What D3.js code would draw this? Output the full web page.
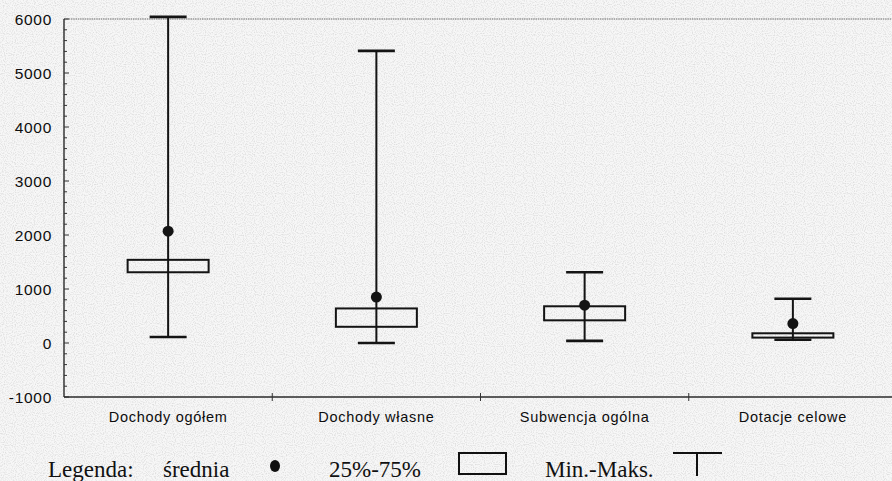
<!DOCTYPE html>
<html>
<head>
<meta charset="utf-8">
<script src="https://cdn.jsdelivr.net/npm/d3@7/dist/d3.min.js"></script>
<style>
  html, body { margin: 0; padding: 0; background: #f4f4f4; }
  svg { display: block; }
</style>
</head>
<body>
<svg id="chart" width="892" height="481"></svg>
<script>
// Budget income components (per capita), summary statistics per category
const categories = ["Dochody ogółem", "Dochody własne", "Subwencja ogólna", "Dotacje celowe"];
const minVals  = [110,    0,   40,  60];
const q1Vals   = [1310, 300,  420, 100];
const q3Vals   = [1540, 640,  680, 180];
const meanVals = [2070, 850,  700, 360];
const maxVals  = [6040, 5410, 1310, 820];
const yTicks   = [-1000, 0, 1000, 2000, 3000, 4000, 5000, 6000];
const yMinorTicks = d3.range(-1000, 6001, 200);

const W = 892, H = 481;
const svg = d3.select("#chart");

// paper grain
const defs = svg.append("defs");
const grain = defs.append("filter").attr("id", "grain").attr("x", 0).attr("y", 0).attr("width", 1).attr("height", 1);
grain.append("feTurbulence").attr("type", "fractalNoise").attr("baseFrequency", 0.9).attr("numOctaves", 1).attr("seed", 3).attr("result", "n");
grain.append("feColorMatrix").attr("in", "n").attr("type", "matrix")
  .attr("values", "0 0 0 0 0.4  0 0 0 0 0.4  0 0 0 0 0.4  0 0 0 -3 1.7");
svg.append("rect").attr("width", W).attr("height", H).attr("fill", "#f7f7f7");
svg.append("rect").attr("width", W).attr("height", H).attr("filter", "url(#grain)").attr("opacity", 0.3);

const plotLeft = 64, plotRight = 897, plotTop = 19, plotBottom = 397;

const x = d3.scaleBand().domain(categories).range([plotLeft, plotRight]).paddingInner(0).paddingOuter(0);
const y = d3.scaleLinear().domain([-1000, 6000]).range([plotBottom, plotTop]);

const ink = "#141414";
const sans = "'Liberation Sans', Arial, sans-serif";

// top frame line
svg.append("line")
  .attr("x1", plotLeft).attr("x2", W).attr("y1", y(6000)).attr("y2", y(6000))
  .attr("stroke", "#6a6a6a").attr("stroke-width", 1.2).attr("stroke-dasharray", "1.5,0.8");

// Y axis: minor ticks every 200, labelled majors every 1000, ticks pointing inward
const yAxisG = svg.append("g").attr("transform", `translate(${plotLeft},0)`);
yAxisG.append("line").attr("x1", 0).attr("x2", 0).attr("y1", y(6000)).attr("y2", y(-1000))
  .attr("stroke", "#2a2a2a").attr("stroke-width", 1.4);
yAxisG.selectAll("line.minor").data(yMinorTicks).enter().append("line")
  .attr("class", "minor")
  .attr("x1", 0).attr("x2", d => d % 1000 === 0 ? 5 : 3)
  .attr("y1", d => y(d)).attr("y2", d => y(d))
  .attr("stroke", "#333").attr("stroke-width", 1);
yAxisG.selectAll("text").data(yTicks).enter().append("text")
  .attr("x", -12).attr("y", d => y(d)).attr("dy", "0.36em")
  .attr("text-anchor", "end")
  .attr("font-family", sans).attr("font-size", 15.5).attr("letter-spacing", "0.7px")
  .attr("fill", "#0d0d0d")
  .text(d => d);

// X axis at the bottom with ticks between categories
const xAxisG = svg.append("g").attr("transform", `translate(0,${plotBottom})`);
xAxisG.append("line").attr("x1", plotLeft).attr("x2", W).attr("y1", 0).attr("y2", 0)
  .attr("stroke", "#2a2a2a").attr("stroke-width", 1.6);
xAxisG.selectAll("line.tick").data(categories.slice(1)).enter().append("line")
  .attr("class", "tick")
  .attr("x1", d => x(d)).attr("x2", d => x(d)).attr("y1", -4).attr("y2", 4)
  .attr("stroke", "#333").attr("stroke-width", 1);
xAxisG.selectAll("text").data(categories).enter().append("text")
  .attr("x", d => x(d) + x.bandwidth() / 2).attr("y", 25)
  .attr("text-anchor", "middle")
  .attr("font-family", sans).attr("font-size", 14.5).attr("letter-spacing", "0.7px")
  .attr("fill", "#0d0d0d")
  .text(d => d);

// Box plots
const boxW = 81, capW = 37;
const groups = svg.append("g").selectAll("g").data(categories).enter().append("g")
  .attr("transform", d => `translate(${x(d) + x.bandwidth() / 2},0)`);

groups.append("line")
  .attr("x1", 0).attr("x2", 0)
  .attr("y1", (d, i) => y(maxVals[i])).attr("y2", (d, i) => y(minVals[i]))
  .attr("stroke", ink).attr("stroke-width", 2);
groups.append("line")
  .attr("x1", -capW / 2).attr("x2", capW / 2)
  .attr("y1", (d, i) => y(maxVals[i])).attr("y2", (d, i) => y(maxVals[i]))
  .attr("stroke", ink).attr("stroke-width", 2.6);
groups.append("line")
  .attr("x1", -capW / 2).attr("x2", capW / 2)
  .attr("y1", (d, i) => y(minVals[i])).attr("y2", (d, i) => y(minVals[i]))
  .attr("stroke", ink).attr("stroke-width", 2.6);
groups.append("rect")
  .attr("x", -boxW / 2).attr("width", boxW)
  .attr("y", (d, i) => y(q3Vals[i]))
  .attr("height", (d, i) => y(q1Vals[i]) - y(q3Vals[i]))
  .attr("fill", "none").attr("stroke", ink).attr("stroke-width", 2);
groups.append("ellipse")
  .attr("cx", 0).attr("cy", (d, i) => y(meanVals[i]))
  .attr("rx", 5.5).attr("ry", 5.5)
  .attr("fill", ink);

// Legend
const serif = "'Liberation Serif', 'Times New Roman', serif";
const legY = 477;
const leg = svg.append("g").attr("font-family", serif).attr("font-size", 23).attr("fill", "#111");
leg.append("text").attr("x", 48).attr("y", legY).text("Legenda:");
leg.append("text").attr("x", 163).attr("y", legY).text("średnia");
leg.append("ellipse").attr("cx", 275).attr("cy", 466).attr("rx", 5).attr("ry", 6).attr("fill", "#111");
leg.append("text").attr("x", 329).attr("y", legY).text("25%-75%");
leg.append("rect").attr("x", 459).attr("y", 453).attr("width", 47).attr("height", 21)
  .attr("fill", "none").attr("stroke", "#111").attr("stroke-width", 2);
leg.append("text").attr("x", 545).attr("y", legY).text("Min.-Maks.");
leg.append("line").attr("x1", 673).attr("x2", 722).attr("y1", 453).attr("y2", 453)
  .attr("stroke", "#111").attr("stroke-width", 2);
leg.append("line").attr("x1", 697).attr("x2", 697).attr("y1", 453).attr("y2", 476)
  .attr("stroke", "#111").attr("stroke-width", 2);
</script>
</body>
</html>
